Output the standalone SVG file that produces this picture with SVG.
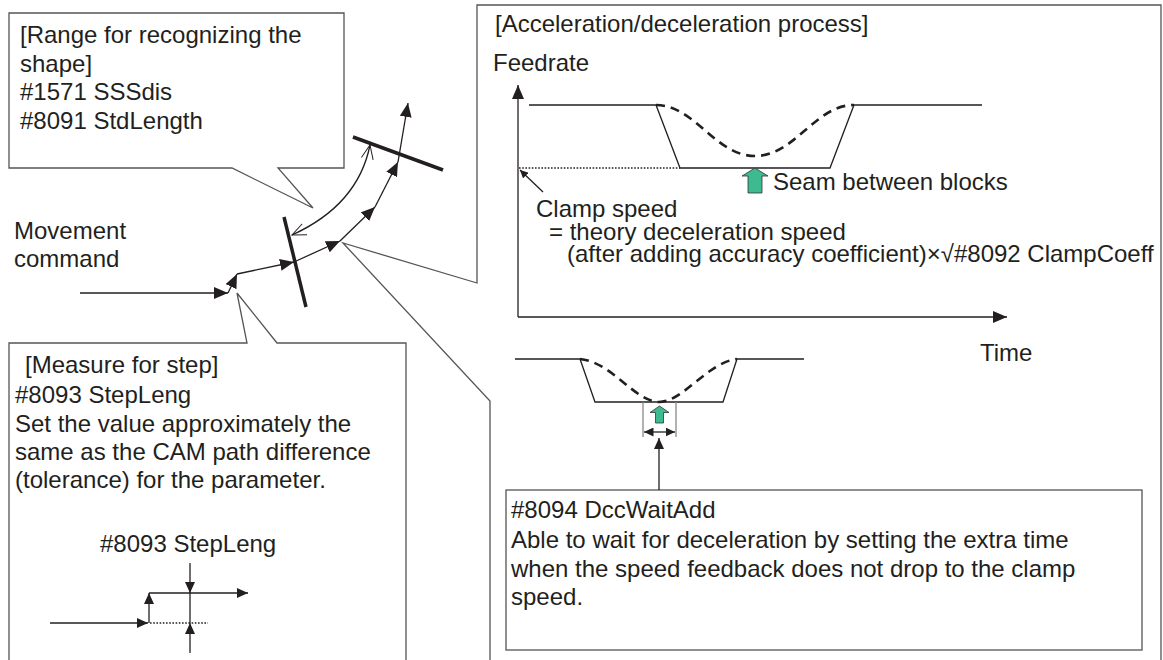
<svg xmlns="http://www.w3.org/2000/svg" width="1163" height="660" viewBox="0 0 1163 660">
<defs>
<style>
text{font-family:"Liberation Sans",Arial,sans-serif;font-size:24px;fill:#231f20}
.box{fill:#fff;stroke:#555;stroke-width:1.3}
.ln{fill:none;stroke:#231f20;stroke-width:1.3}
.bar{fill:none;stroke:#231f20;stroke-width:3.5}
.dash{fill:none;stroke:#231f20;stroke-width:2.6;stroke-dasharray:9 6}
.dot{fill:none;stroke:#231f20;stroke-width:1.6;stroke-dasharray:1.6 1.6}
.grn{fill:#3dba8f;stroke:#333;stroke-width:0.8}
.gry{fill:none;stroke:#888;stroke-width:1.3}
</style>
<marker id="ah" markerUnits="userSpaceOnUse" markerWidth="15" markerHeight="12" refX="14" refY="6" orient="auto"><path d="M0,0 L14,6 L0,12 Z" fill="#231f20"/></marker>
<marker id="as" markerUnits="userSpaceOnUse" markerWidth="12" markerHeight="10" refX="11" refY="5" orient="auto"><path d="M0,0 L11,5 L0,10 Z" fill="#231f20"/></marker>
<marker id="ax" markerUnits="userSpaceOnUse" markerWidth="10" markerHeight="9" refX="9.5" refY="4.5" orient="auto-start-reverse"><path d="M0,0 L9.5,4.5 L0,9 Z" fill="#231f20"/></marker>
<marker id="ao" markerUnits="userSpaceOnUse" markerWidth="16" markerHeight="14" refX="14" refY="7" orient="auto-start-reverse"><path d="M0,1 L14,7 L0,13" fill="none" stroke="#231f20" stroke-width="1"/></marker>
<marker id="sm" markerUnits="userSpaceOnUse" markerWidth="9" markerHeight="8" refX="8" refY="4" orient="auto"><path d="M0,0 L8,4 L0,8 Z" fill="#231f20"/></marker>
</defs>

<g id="range-callout">
<path class="box" d="M9,13 H344 V168 H278 L313,208 L232,168 H9 Z"/>
<text x="20" y="43">[Range for recognizing the</text>
<text x="20" y="72">shape]</text>
<text x="20" y="100">#1571 SSSdis</text>
<text x="20" y="129">#8091 StdLength</text>
</g>

<g id="process-panel">
<path class="box" d="M490,670 L490,401 L343,243 L477,283 L477,5 L1161,5 L1161,670"/>
<text x="495" y="32">[Acceleration/deceleration process]</text>
<text x="493" y="71">Feedrate</text>
<text x="773" y="190">Seam between blocks</text>
<text x="536" y="217">Clamp speed</text>
<text x="549" y="240">= theory deceleration speed</text>
<text x="567" y="262">(after adding accuracy coefficient)×√#8092 ClampCoeff</text>
<text x="980" y="361">Time</text>
</g>

<g id="step-callout">
<path class="box" d="M9,670 V343 H247 L237,293 L277,343 H406 V670"/>
<text x="25" y="373">[Measure for step]</text>
<text x="15" y="403">#8093 StepLeng</text>
<text x="15" y="432">Set the value approximately the</text>
<text x="15" y="460">same as the CAM path difference</text>
<text x="15" y="488">(tolerance) for the parameter.</text>
<text x="100" y="552">#8093 StepLeng</text>
</g>

<g id="dccwait-box">
<rect class="box" x="506" y="490" width="636" height="160"/>
<text x="511" y="518">#8094 DccWaitAdd</text>
<text x="511" y="548">Able to wait for deceleration by setting the extra time</text>
<text x="511" y="577">when the speed feedback does not drop to the clamp</text>
<text x="511" y="605">speed.</text>
</g>

<g id="movement-label">
<text x="14" y="239">Movement</text>
<text x="14" y="267">command</text>
</g>

<g id="connectors">
<!-- movement path -->
<line class="ln" x1="80" y1="293" x2="228" y2="293" marker-end="url(#ah)"/>
<line class="ln" x1="228" y1="293" x2="237" y2="274" marker-end="url(#ah)"/>
<line class="ln" x1="237" y1="274" x2="294" y2="262" marker-end="url(#ah)"/>
<line class="ln" x1="294" y1="262" x2="340" y2="241" marker-end="url(#ah)"/>
<line class="ln" x1="340" y1="241" x2="375" y2="207" marker-end="url(#ah)"/>
<line class="ln" x1="375" y1="207" x2="398" y2="162" marker-end="url(#ah)"/>
<line class="ln" x1="398" y1="162" x2="408" y2="103" marker-end="url(#ah)"/>
<line class="bar" x1="284" y1="217" x2="306" y2="307"/>
<line class="bar" x1="353" y1="137" x2="443" y2="170"/>
<path class="ln" d="M292,235 Q358,205 370,145" stroke-width="1" marker-start="url(#ao)" marker-end="url(#ao)"/>

<!-- feedrate chart -->
<line class="ln" x1="518" y1="317" x2="518" y2="85" marker-end="url(#ah)"/>
<line class="ln" x1="518" y1="317" x2="1007" y2="317" marker-end="url(#ah)"/>
<path class="ln" d="M529,105 H656 L680,168 H830 L854,105 H982"/>
<path class="dash" d="M656,105 C695,105 715,156 755,156 C795,156 815,105 854,105"/>
<line class="dot" x1="519" y1="168" x2="680" y2="168"/>
<line class="ln" x1="543" y1="192" x2="520" y2="170" stroke-width="1" marker-end="url(#sm)"/>
<path class="grn" d="M755,168 L768,176 L762,176 L762,193 L748,193 L748,176 L742,176 Z"/>

<!-- small chart -->
<path class="ln" d="M515,359 H580 L595,402 H723 L737,359 H804"/>
<path class="dash" d="M580,359 C612,362 635,402 659,402 C683,402 708,362 737,359"/>
<line class="gry" x1="643" y1="402" x2="643" y2="437"/>
<line class="gry" x1="676" y1="402" x2="676" y2="437"/>
<line class="ln" x1="644" y1="432" x2="675" y2="432" marker-start="url(#ax)" marker-end="url(#ax)"/>
<path class="grn" d="M659.5,406 L669,412.5 L663.5,412.5 L663.5,423 L655.5,423 L655.5,412.5 L650,412.5 Z"/>
<line class="ln" x1="659" y1="490" x2="659" y2="438" marker-end="url(#as)"/>

<!-- step sketch -->
<line class="ln" x1="50" y1="623" x2="148" y2="623" marker-end="url(#as)"/>
<line class="ln" x1="149" y1="623" x2="149" y2="593" marker-end="url(#as)"/>
<line class="ln" x1="149" y1="593" x2="248" y2="593" marker-end="url(#as)"/>
<line class="dot" x1="150" y1="623" x2="208" y2="623" stroke-width="2"/>
<line class="ln" x1="190" y1="563" x2="190" y2="593" marker-end="url(#as)"/>
<line class="ln" x1="190" y1="653" x2="190" y2="623" marker-end="url(#as)"/>
<line class="ln" x1="190" y1="593" x2="190" y2="623"/>
</g>
</svg>
